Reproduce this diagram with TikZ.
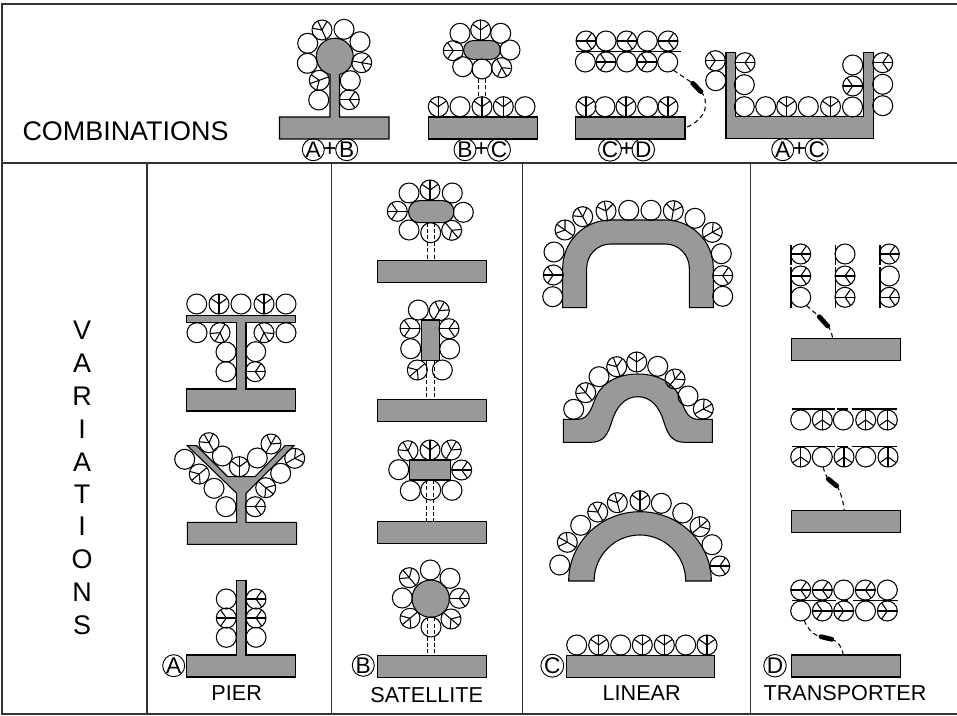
\documentclass[tikz,border=0pt]{standalone}
\usepackage{fontspec}
\setmainfont{Liberation Sans}
\usetikzlibrary{calc}

\tikzset{
  ball/.style={circle,draw,inner sep=0pt,outer sep=0pt,minimum size=15pt,line width=0.8pt},
  spoke/.style={line width=0.8pt},
  steel/.style={draw,fill=gray!80,line width=0.8pt},
  bar/.style={steel,rectangle,inner sep=0pt,outer sep=0pt,minimum width=82pt,minimum height=16.5pt},
  link/.style={line width=0.7pt,dash pattern=on 3pt off 1.8pt},
  tether/.style={line width=0.8pt,dash pattern=on 3.5pt off 2.5pt},
  capsule/.style={line width=3.6pt,line cap=round},
  frameline/.style={line width=1.1pt,black!80},
  tag/.style={circle,draw,inner sep=0pt,outer sep=0pt,minimum size=16.5pt,line width=0.7pt,font=\fontsize{17}{17}\selectfont},
  plus/.style={inner sep=0pt,font=\fontsize{18}{18}\selectfont},
  caption/.style={inner sep=0pt,font=\fontsize{16.2}{16.2}\selectfont},
  title/.style={inner sep=0pt,font=\fontsize{20.2}{20.2}\selectfont},
}

% ball with the three spokes, opening towards angle #4
\newcommand{\pball}[4]{
  \node[ball](#1) at (#2,#3) {};
  \pgfmathtruncatemacro{\back}{#4+180}
  \pgfmathtruncatemacro{\wingl}{#4+55}
  \pgfmathtruncatemacro{\wingr}{#4-55}
  \draw[spoke] (#1.#4) -- (#1.\back);
  \draw[spoke] (#1.\wingl) -- (#1.center) -- (#1.\wingr);
}
% two dashed lines from a carrier down to its bar
\newcommand{\dlink}[2]{
  \draw[link] ([xshift=-2.8pt]#1) -- ([xshift=-2.8pt]#1 |- #2.north);
  \draw[link] ([xshift=2.8pt]#1) -- ([xshift=2.8pt]#1 |- #2.north);
}

\begin{document}
\begin{tikzpicture}[x=0.75pt,y=-0.75pt]
\useasboundingbox (0,0) rectangle (957,716);

% frame
\draw[frameline] (957,4) -- (2,4) -- (2,714) -- (957,714);
\draw[frameline] (2,163) -- (957,163);
\draw[frameline] (147,163) -- (147,714);
\draw[frameline] (331.5,163) -- (331.5,714);
\draw[frameline] (522.3,163) -- (522.3,714);
\draw[frameline] (750.5,163) -- (750.5,714);

\node[title](comb) at (125.5,131) {COMBINATIONS};
\foreach \n/\t/\y in {v1/V/330,v2/A/363,v3/R/396,v4/I/429,v5/A/462,v6/T/494,v7/I/526,v8/O/559,v9/N/592,v10/S/625}
  \node[title](\n) at (82,\y) {\t};

% A+B
\draw[steel] (279.5,139) -- (279.5,117) -- (330,117) -- (330,74.6)
  arc[start angle=104.9,end angle=435.1,radius=18.5] -- (339.5,117) -- (389,117) -- (389,139) -- cycle;
\foreach \n/\x/\y in {ab1/344/29.3,ab2/307.7/43.3,ab3/360/41.7,ab4/307.3/63.3,ab5/350.3/80.7,ab6/318.7/100}
  \node[ball](\n) at (\x,\y) {};
\pball{ab7}{322}{30}{115}
\pball{ab8}{361.7}{62.7}{350}
\pball{ab9}{319.3}{80.3}{200}
\pball{ab10}{349.3}{99.7}{0}
\node[tag](tagab1) at (313.3,149.7) {A};
\node[plus](plusab) at (329.8,150) {+};
\node[tag](tagab2) at (346.7,149.7) {B};

% B+C
\node[bar](barbc) at (482.7,128) {};
\node[steel,rounded corners=6.9pt,inner sep=0pt,outer sep=0pt,minimum width=27.5pt,minimum height=14pt](pillbc) at (482,50) {};
\foreach \n/\x/\y in {bc1/460/33.3,bc2/500.7/33.3,bc3/510/50,bc4/462.7/66.7,bc5/482/69,bc6/460/106.7,bc7/525/106.7}
  \node[ball](\n) at (\x,\y) {};
\pball{bc8}{480.7}{30}{90}
\pball{bc9}{453.3}{50.7}{180}
\pball{bc10}{501.7}{67.7}{300}
\foreach \n/\x in {bc11/438.3,bc12/482,bc13/503.3}
  \pball{\n}{\x}{106.7}{90};
\dlink{bc5.south}{bc12}
\node[tag](tagbc1) at (465,149.7) {B};
\node[plus](plusbc) at (481.5,150) {+};
\node[tag](tagbc2) at (499,149.7) {C};

% C+D
\node[bar](barcd) at (630.3,128) {};
\draw[spoke] (576,51.7) -- (680.7,51.7);
\foreach \n/\x/\y in {cd1/606/41,cd2/647.3/41,cd3/585.3/62,cd4/626.7/62,cd5/667.7/62,cd6/605/106.7,cd7/647.7/106.7}
  \node[ball](\n) at (\x,\y) {};
\foreach \n/\x in {cd8/586,cd9/626.7,cd10/668}
  \pball{\n}{\x}{41}{0};
\foreach \n/\x in {cd11/606,cd12/647}
  \pball{\n}{\x}{62}{180};
\foreach \n/\x in {cd13/586,cd14/626,cd15/668}
  \pball{\n}{\x}{106.7}{90};
\coordinate (capcd1) at (692.7,83.3);
\coordinate (capcd2) at (701,91.7);
\draw[tether] (cd5.-55) -- (capcd1);
\draw[capsule] (capcd1) -- (capcd2);
\draw[tether] (capcd2) .. controls (708,99) and (710,118) .. (barcd.east);
\node[tag](tagcd1) at (610,149.7) {C};
\node[plus](pluscd) at (626.7,150) {+};
\node[tag](tagcd2) at (643.3,149.7) {D};

% A+C
\draw[steel] (726,138.7) -- (726,52.7) -- (735.3,52.7) -- (735.3,116.7) -- (863.3,116.7)
  -- (863.3,52.7) -- (873.3,52.7) -- (873.3,138.7) -- cycle;
\foreach \n/\x/\y in {ac1/715.7/80.7,ac2/744.3/84.7,ac3/744.3/106.7,ac4/765.7/106.7,ac5/808.3/106.7,ac6/852.5/107,ac7/852.7/65,ac8/882.7/84.3,ac9/882.7/105.7}
  \node[ball](\n) at (\x,\y) {};
\pball{ac10}{715.3}{60.7}{180}
\pball{ac11}{745}{62.7}{0}
\pball{ac12}{786.7}{106.7}{90}
\pball{ac13}{830.5}{106.7}{90}
\pball{ac14}{852.7}{86}{180}
\pball{ac15}{882.7}{62.7}{0}
\node[tag](tagac1) at (782.7,149.7) {A};
\node[plus](plusac) at (799.3,150) {+};
\node[tag](tagac2) at (816.7,149.7) {C};

% pier
\draw[steel] (186.7,411) -- (186.7,389) -- (236.7,389) -- (236.7,322.3) -- (186.7,322.3) -- (186.7,315.7)
  -- (295.7,315.7) -- (295.7,322.3) -- (246,322.3) -- (246,389) -- (295.7,389) -- (295.7,411) -- cycle;
\foreach \n/\x/\y in {ta1/196.7/304,ta2/241/304,ta3/286/304,ta4/197/332.7,ta5/286/332.7,ta6/226/352,ta7/255.7/351.7,ta8/226/371.7}
  \node[ball](\n) at (\x,\y) {};
\pball{ta9}{219}{304}{90}
\pball{ta10}{264}{304}{90}
\pball{ta11}{220}{332.7}{240}
\pball{ta12}{264}{332.7}{300}
\pball{ta13}{255.3}{371.7}{0}

\draw[steel] (187.3,544.3) -- (187.3,522.3) -- (236.7,522.3) -- (236.7,493.3) -- (187.3,445.7) -- (196.7,445.7)
  -- (227.7,476.7) -- (255,476.7) -- (285,445.7) -- (294,445.7) -- (246,493.3) -- (246,522.3)
  -- (296.7,522.3) -- (296.7,544.3) -- cycle;
\foreach \n/\x/\y in {ya1/222.3/456,ya2/257.3/458,ya3/280.7/473.3,ya4/226/506.7,ya5/214/488.3,ya6/184.7/459.3}
  \node[ball](\n) at (\x,\y) {};
\pball{ya7}{209}{442.7}{120}
\pball{ya8}{239.3}{466.7}{90}
\pball{ya9}{271}{444}{60}
\pball{ya10}{294.7}{458.3}{30}
\pball{ya11}{265.7}{487.7}{320}
\pball{ya12}{255.3}{506.7}{0}
\pball{ya13}{199.3}{474}{220}

\draw[steel] (186.7,677) -- (186.7,655) -- (236.7,655) -- (236.7,580.7) -- (246,580.7) -- (246,655)
  -- (295.7,655) -- (295.7,677) -- cycle;
\foreach \n/\x/\y in {pa1/226.3/599,pa2/226.3/637.3,pa3/256/637.3}
  \node[ball](\n) at (\x,\y) {};
\pball{pa4}{226.3}{618}{180}
\pball{pa5}{256}{599}{0}
\pball{pa6}{256}{618}{0}
\node[tag](taga) at (173.7,665.7) {A};
\node[caption](pier) at (236.7,693.5) {PIER};

% satellite
\node[bar](bars1) at (432,271.7) {};
\node[steel,rounded corners=8pt,inner sep=0pt,outer sep=0pt,minimum width=34pt,minimum height=16.5pt](pills) at (431.2,211.7) {};
\foreach \n/\x/\y in {sa1/409/193,sa2/452.3/193,sa3/463.3/212.3,sa4/409/230,sa5/430.7/232.7}
  \node[ball](\n) at (\x,\y) {};
\pball{sa6}{430}{190}{90}
\pball{sa7}{397.3}{211.3}{180}
\pball{sa8}{451.7}{230.3}{310}
\dlink{pills.south}{bars1}

\node[bar](bars2) at (432,410.3) {};
\node[steel,inner sep=0pt,outer sep=0pt,minimum width=13.2pt,minimum height=30.7pt](rects2) at (430.5,340.5) {};
\foreach \n/\x/\y in {sb1/418.3/310,sb2/410.7/348.7,sb3/449.7/349,sb4/442.3/370}
  \node[ball](\n) at (\x,\y) {};
\pball{sb5}{439.3}{310.7}{60}
\pball{sb6}{410}{328.3}{180}
\pball{sb7}{449}{328.7}{0}
\pball{sb8}{417.3}{370}{220}
\dlink{rects2.south}{bars2}

\node[bar](bars3) at (432,532.3) {};
\node[steel,inner sep=0pt,outer sep=0pt,minimum width=31pt,minimum height=15pt](rects3) at (430,470) {};
\foreach \n/\x/\y in {sc1/398.7/469.7,sc2/410.3/490.7,sc3/430.7/490,sc4/452/490.3}
  \node[ball](\n) at (\x,\y) {};
\pball{sc5}{408}{450.7}{120}
\pball{sc6}{430}{450}{90}
\pball{sc7}{451.3}{450}{60}
\pball{sc8}{461.7}{470}{0}
\dlink{rects3.south}{bars3}

\node[bar](bars4) at (432,666.3) {};
\node[steel,circle,inner sep=0pt,outer sep=0pt,minimum size=28pt](suns4) at (430.7,598.7) {};
\foreach \n/\x/\y in {sd1/430.3/570,sd2/450/578.3,sd3/402.3/598,sd4/431/627}
  \node[ball](\n) at (\x,\y) {};
\pball{sd5}{409.3}{577.7}{130}
\pball{sd6}{459.3}{598.3}{0}
\pball{sd7}{410}{618.3}{220}
\pball{sd8}{451}{619}{320}
\dlink{suns4.south}{bars4}
\node[tag](tagb) at (363.3,665.3) {B};
\node[caption](satellite) at (426.7,695) {SATELLITE};

% linear
\draw[steel] (562.7,307.7) -- (562.7,268) arc[start angle=180,end angle=270,radius=48]
  -- (665.3,220) arc[start angle=270,end angle=360,radius=48] -- (713.3,307.7) -- (689.3,307.7) -- (689.3,268)
  arc[start angle=0,end angle=-90,radius=24] -- (610.7,244) arc[start angle=270,end angle=180,radius=24]
  -- (586.7,307.7) -- cycle;
\foreach \n/\x/\y in {la1/552.7/296.7,la2/554/252,la3/628.7/210.3,la4/651/210.3,la5/695/218.3,la6/721.3/253.7,la7/722.7/296.3}
  \node[ball](\n) at (\x,\y) {};
\pball{la8}{553.3}{275}{180}
\pball{la9}{565}{230}{145}
\pball{la10}{582.7}{216.7}{120}
\pball{la11}{606}{211}{100}
\pball{la12}{673.3}{210.7}{80}
\pball{la13}{712.3}{232.3}{30}
\pball{la14}{722.7}{275.7}{0}

\draw[steel] (563.3,442.3) -- (563.3,419.3) -- (578,419.3) .. controls (590,419.3) and (592,405) .. (597,395)
  .. controls (604,381) and (620,374) .. (637.8,374) .. controls (655.6,374) and (671.6,381) .. (678.6,395)
  .. controls (683.6,405) and (685.6,419.3) .. (697.6,419.3) -- (712.3,419.3) -- (712.3,442.3) -- (684.6,442.3)
  .. controls (671.6,442.3) and (667.6,434) .. (663.6,421) .. controls (659.6,408) and (651.6,396.7) .. (637.8,396.7)
  .. controls (624,396.7) and (616,408) .. (612,421) .. controls (608,434) and (604,442.3) .. (591,442.3) -- cycle;
\foreach \n/\x/\y in {lb1/573.7/409.3,lb2/599/376.7,lb3/657.7/366.3,lb4/688/396}
  \node[ball](\n) at (\x,\y) {};
\pball{lb5}{585.7}{392.7}{130}
\pball{lb6}{616.7}{366.7}{110}
\pball{lb7}{636.7}{362}{90}
\pball{lb8}{675}{379}{50}
\pball{lb9}{703.3}{409}{30}

\draw[steel] (568.7,581) arc[start angle=180,end angle=360,x radius=71.3,y radius=69.3] -- (685.7,581)
  arc[start angle=0,end angle=-180,x radius=45.8,y radius=46] -- cycle;
\foreach \n/\x/\y in {lc1/559.7/565,lc2/580.7/525.3,lc3/661.3/503.3,lc4/682.7/513,lc5/712/544.7}
  \node[ball](\n) at (\x,\y) {};
\pball{lc6}{567.3}{542.3}{150}
\pball{lc7}{597.7}{512}{120}
\pball{lc8}{617.3}{502.7}{105}
\pball{lc9}{640}{500.7}{90}
\pball{lc10}{700}{526.7}{40}
\pball{lc11}{719.7}{566}{0}

\node[bar,minimum width=110.7pt](barc) at (640.5,666.3) {};
\foreach \n/\x in {ld1/576.7,ld2/620.7,ld3/685.7}
  \node[ball](\n) at (\x,645) {};
\foreach \n/\x in {ld4/598.7,ld5/642.3,ld6/664.3,ld7/707}
  \pball{\n}{\x}{645}{90};
\node[tag](tagc) at (552.3,665.7) {C};
\node[caption](linear) at (641.7,693.5) {LINEAR};

% transporter
\foreach \n/\x in {w1/791,w2/835.7,w3/880} {
  \draw[spoke] (\x,245) -- (\x,265);
  \draw[spoke] (\x,267.5) -- (\x,307.7);
}
\foreach \n/\x/\y in {tr1/800.7/297.3,tr2/845/254,tr3/889.3/276}
  \node[ball](\n) at (\x,\y) {};
\pball{tr4}{800.7}{254}{0}
\pball{tr5}{800.7}{276}{0}
\pball{tr6}{845}{276}{0}
\pball{tr7}{845}{297.3}{0}
\pball{tr8}{889.3}{254}{0}
\pball{tr9}{889.3}{297.3}{0}
\node[bar](bard1) at (845.7,349.7) {};
\coordinate (captr1) at (819.3,316.7);
\coordinate (captr2) at (827.7,326);
\coordinate (endtr) at (832.7,338.7);
\draw[tether] (tr1.-55) -- (captr1);
\draw[capsule] (captr1) -- (captr2);
\draw[tether] (captr2) .. controls (830.5,329) and (832,334) .. (endtr);

\foreach \y in {409,446.7} {
  \draw[spoke] (791.7,\y) -- (835,\y);
  \draw[spoke] (837.3,\y) -- (848.3,\y);
  \draw[spoke] (851.7,\y) -- (896.7,\y);
}
\foreach \n/\x/\y in {ts1/800.7/420,ts2/843.3/420,ts3/822.3/457,ts4/865.7/457}
  \node[ball](\n) at (\x,\y) {};
\pball{ts5}{822.3}{420}{270}
\pball{ts6}{865.7}{420}{270}
\pball{ts7}{887.3}{420}{270}
\pball{ts8}{800.7}{457}{270}
\pball{ts9}{844}{457}{270}
\pball{ts10}{888}{457}{270}
\node[bar](bard2) at (845.7,521.3) {};
\coordinate (capts1) at (828.3,479);
\coordinate (capts2) at (836.7,486);
\coordinate (endts) at (844.3,510.3);
\draw[tether] (ts3.-85) .. controls (824,471) and (826,476) .. (capts1);
\draw[capsule] (capts1) -- (capts2);
\draw[tether] (capts2) .. controls (840,490) and (843,500) .. (endts);

\draw[spoke] (792,600.3) -- (836,600.3);
\draw[spoke] (841,600.3) -- (848.3,600.3);
\draw[spoke] (853.3,600.3) -- (897.7,600.3);
\foreach \n/\x/\y in {tu1/843.7/590,tu2/887.3/590,tu3/800.7/611,tu4/865.5/611}
  \node[ball](\n) at (\x,\y) {};
\pball{tu5}{800.7}{590}{0}
\pball{tu6}{822.3}{590}{0}
\pball{tu7}{865.3}{590}{0}
\pball{tu8}{822.3}{611}{180}
\pball{tu9}{843.7}{611}{180}
\pball{tu10}{887.3}{611}{180}
\node[bar](bard3) at (845.7,666) {};
\coordinate (captu1) at (821,636.7);
\coordinate (captu2) at (831.7,639.3);
\coordinate (endtu) at (843.3,655);
\draw[tether] (tu3.-70) .. controls (807,627) and (812,635) .. (captu1);
\draw[capsule] (captu1) -- (captu2);
\draw[tether] (captu2) .. controls (838,641) and (842,647) .. (endtu);
\node[tag](tagd) at (775,665.7) {D};
\node[caption](transporter) at (845,693.5) {TRANSPORTER};
\end{tikzpicture}
\end{document}
